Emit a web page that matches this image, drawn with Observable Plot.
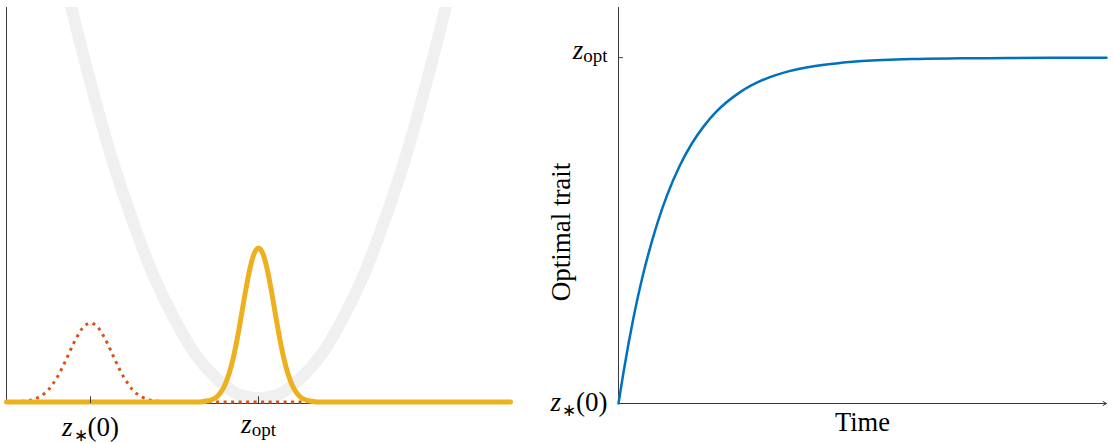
<!DOCTYPE html>
<html>
<head>
<meta charset="utf-8">
<script src="https://cdn.jsdelivr.net/npm/d3@7"></script>
<script src="https://cdn.jsdelivr.net/npm/@observablehq/plot@0.6"></script>
<style>
  html, body { margin: 0; padding: 0; background: #fff; }
  #wrap { display: flex; width: 1113px; height: 443px; }
  #wrap svg { display: block; }
</style>
</head>
<body>
<div id="wrap"></div>
<script>
// ---------- Left panel: trait distributions and fitness landscape ----------
// Initial trait distribution (orange, dotted), centred at z*(0)
const initX = [0, 0.1, 0.2, 0.3, 0.4, 0.45, 0.5, 0.55, 0.6, 0.65, 0.7, 0.75, 0.8, 0.85, 0.9, 0.95, 1.0,
               1.05, 1.1, 1.15, 1.2, 1.25, 1.3, 1.35, 1.4, 1.45, 1.5, 1.55, 1.6, 1.7, 1.8, 1.9, 2.0, 6.0];
const initY = [0, 0.0005, 0.002, 0.005, 0.014, 0.021, 0.031, 0.045, 0.061, 0.081, 0.103, 0.126, 0.149, 0.169, 0.186, 0.196, 0.2,
               0.196, 0.186, 0.169, 0.149, 0.126, 0.103, 0.081, 0.061, 0.045, 0.031, 0.021, 0.014, 0.005, 0.002, 0.0005, 0, 0];

// Final trait distribution (gold), centred at z_opt
const finalX = [0, 2.3, 2.4, 2.45, 2.5, 2.55, 2.6, 2.65, 2.7, 2.75, 2.8, 2.85, 2.9, 2.95, 3.0,
                3.05, 3.1, 3.15, 3.2, 3.25, 3.3, 3.35, 3.4, 3.45, 3.5, 3.55, 3.6, 3.7, 6.0];
const finalY = [0, 0, 0.003, 0.006, 0.012, 0.024, 0.043, 0.072, 0.112, 0.164, 0.224, 0.286, 0.34, 0.377, 0.39,
                0.377, 0.34, 0.286, 0.224, 0.164, 0.112, 0.072, 0.043, 0.024, 0.012, 0.006, 0.003, 0, 0];

// Fitness landscape (light grey parabola)
const fitX = [0.5, 0.75, 1.0, 1.25, 1.5, 1.75, 2.0, 2.25, 2.5, 2.75, 3.0, 3.25, 3.5, 3.75, 4.0, 4.25, 4.5, 4.75, 5.0, 5.25, 5.5];
const fitY = [1.26, 1.02, 0.81, 0.62, 0.46, 0.32, 0.21, 0.12, 0.06, 0.02, 0.01, 0.02, 0.06, 0.12, 0.21, 0.32, 0.46, 0.62, 0.81, 1.02, 1.26];

const leftTicks = [1, 3];
const leftTickLabels = ["z*(0)", "zopt"];

// ---------- Right panel: optimal trait through time ----------
const timeT = [0, 0.1, 0.2, 0.3, 0.4, 0.5, 0.6, 0.8, 1, 1.25, 1.5, 1.75, 2, 2.5, 3, 3.5, 4, 4.5, 5, 6, 7, 8, 9, 10];
const timeZ = [0, 0.088, 0.169, 0.243, 0.31, 0.371, 0.426, 0.523, 0.604, 0.686, 0.751, 0.802, 0.843, 0.901, 0.938,
               0.961, 0.975, 0.984, 0.99, 0.996, 0.998, 0.999, 1.0, 1.0];

const rightTicks = [0, 1];
const rightTickLabels = ["z*(0)", "zopt"];

// ---------- build tables ----------
const initData = initX.map((x, i) => ({x, y: initY[i]}));
const finalData = finalX.map((x, i) => ({x, y: finalY[i]}));
const fitData = fitX.map((x, i) => ({x, y: fitY[i]}));
const timeData = timeT.map((t, i) => ({t, z: timeZ[i]}));

const AXIS = "#3a3a3a";
const FONT = "'Liberation Serif', 'Times New Roman', serif";
const Y0 = -0.004;

const left = Plot.plot({
  width: 540, height: 443,
  marginLeft: 6, marginRight: 30, marginTop: 7, marginBottom: 40,
  style: {fontFamily: FONT, background: "white", overflow: "visible"},
  x: {domain: [0, 6], axis: null},
  y: {domain: [Y0, 1], axis: null},
  marks: [
    Plot.line(fitData, {x: "x", y: "y", stroke: "#F0F0F0", strokeWidth: 12, curve: "catmull-rom", clip: true}),
    Plot.ruleY([Y0], {stroke: AXIS, strokeWidth: 1}),
    Plot.ruleX([0], {stroke: AXIS, strokeWidth: 1}),
    Plot.line(initData, {x: "x", y: "y", stroke: "#D95319", strokeWidth: 3, strokeDasharray: "3,4.5",
                         strokeLinecap: "butt", curve: "monotone-x"}),
    Plot.line(finalData, {x: "x", y: "y", stroke: "#EDB120", strokeWidth: 5, curve: "monotone-x"}),
    Plot.ruleX(leftTicks, {y1: Y0, y2: 0.013, stroke: AXIS, strokeWidth: 1}),
    Plot.axisX({ticks: leftTicks, tickFormat: d => leftTickLabels[leftTicks.indexOf(d)],
                tickSize: 0, tickPadding: 0, fontSize: 27, fontFamily: FONT, label: null})
  ]
});

const right = Plot.plot({
  width: 573, height: 443,
  marginLeft: 78, marginRight: 7, marginTop: 7, marginBottom: 40,
  style: {fontFamily: FONT, background: "white", overflow: "visible"},
  x: {domain: [0, 10], axis: null},
  y: {domain: [0, 1.145], axis: null},
  marks: [
    Plot.ruleX([0], {stroke: AXIS, strokeWidth: 1}),
    Plot.arrow([{x1: 0, y1: 0, x2: 10, y2: 0}], {x1: "x1", y1: "y1", x2: "x2", y2: "y2",
               stroke: AXIS, strokeWidth: 1, headLength: 6, headAngle: 60}),
    Plot.ruleY([1], {x1: 0, x2: 0.1, stroke: AXIS, strokeWidth: 1}),
    Plot.line(timeData, {x: "t", y: "z", stroke: "#0072BD", strokeWidth: 2.5, curve: "monotone-x"}),
    Plot.axisY({ticks: rightTicks, tickFormat: d => rightTickLabels[rightTicks.indexOf(d)],
                anchor: "left", tickSize: 0, tickPadding: 11, fontSize: 27, fontFamily: FONT, label: null}),
    Plot.text(["Time"], {text: d => d, frameAnchor: "bottom", dy: 27, fontSize: 26.5, fontFamily: FONT}),
    Plot.text(["Optimal trait"], {text: d => d, frameAnchor: "left", textAnchor: "middle", rotate: -90,
               dx: -57.6, dy: 26.5, fontSize: 27, fontFamily: FONT})
  ]
});

// ---------- rich (math) tick labels ----------
const NS = "http://www.w3.org/2000/svg";
function span(parent, txt, attrs) {
  const s = document.createElementNS(NS, "tspan");
  for (const k in attrs) s.setAttribute(k, attrs[k]);
  s.textContent = txt;
  parent.appendChild(s);
}
function richify(svg, yShift) {
  svg.querySelectorAll("text").forEach(t => {
    const s = t.textContent;
    if (s === "z*(0)") {
      t.textContent = "";
      t.setAttribute("font-family", FONT);
      span(t, "z", {"font-style": "italic", "font-family": FONT});
      span(t, "\u2217", {"font-size": "17", "dy": "5", "dx": "1"});
      span(t, "(0)", {"dy": "-5", "font-family": FONT});
      t.setAttribute("y", yShift[s]);
    } else if (s === "zopt") {
      t.textContent = "";
      t.setAttribute("font-family", FONT);
      span(t, "z", {"font-style": "italic", "font-family": FONT});
      span(t, "opt", {"font-size": "19", "dy": "3.5", "font-family": FONT});
      t.setAttribute("y", yShift[s]);
    }
  });
}
richify(left, {"z*(0)": 32, "zopt": 29});
richify(right, {"z*(0)": 7, "zopt": 1});

const wrap = document.getElementById("wrap");
wrap.appendChild(left);
wrap.appendChild(right);
</script>
</body>
</html>
